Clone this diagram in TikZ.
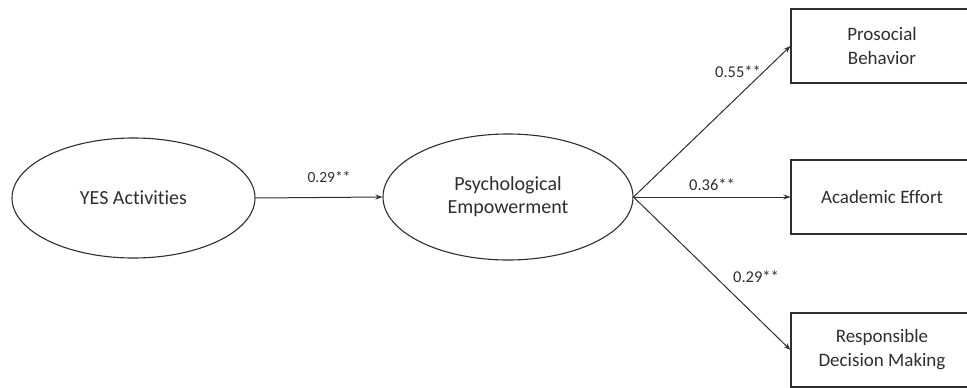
\documentclass[tikz,border=0pt]{standalone}
\usepackage{fontspec}
\setmainfont[Ligatures=CommonOff]{Carlito}
\usetikzlibrary{shapes.geometric,arrows.meta}
\definecolor{ink}{HTML}{2E2E2E}
\begin{document}
\begin{tikzpicture}[x=1pt,y=-1pt,
  every node/.style={text=ink},
  latent/.style={ellipse,draw=ink,line width=1.1pt,inner sep=0pt,font=\fontsize{20}{23}\selectfont,align=center},
  observed/.style={rectangle,draw=ink,line width=1.1pt,inner sep=0pt,minimum width=182pt,minimum height=74pt,font=\fontsize{19}{24}\selectfont,align=center},
  coef/.style={font=\fontsize{16.5}{18}\selectfont,inner sep=0pt,anchor=base},
  arr/.style={draw=ink,line width=1pt,-{Stealth[length=7pt,width=5pt]}}]
\useasboundingbox (0,0) rectangle (967,388);
\node[latent,minimum width=243pt,minimum height=120pt] (yes) at (133.5,198) {YES Activities};
\node[latent,minimum width=250pt,minimum height=126pt] (pe) at (508,197) {Psychological\\Empowerment};
\node[observed] (pb) at (882,46) {Prosocial\\Behavior};
\node[observed] (ae) at (882,197) {Academic Effort};
\node[observed] (rd) at (882,350) {Responsible\\Decision Making};
\draw[arr] (yes.east) -- (pe.west);
\draw[arr] (pe.east) -- (pb.west);
\draw[arr] (pe.east) -- (ae.west);
\draw[arr] (pe.east) -- (rd.west);
\node[coef,font=\fontsize{15.5}{18}\selectfont] (c1) at (329,182) {0.29**};
\node[coef] (c2) at (738,77) {0.55**};
\node[coef] (c3) at (712,190) {0.36**};
\node[coef] (c4) at (756,282) {0.29**};
\end{tikzpicture}
\end{document}
